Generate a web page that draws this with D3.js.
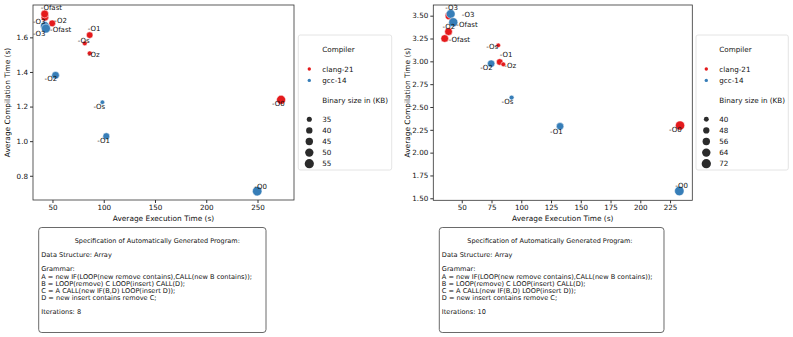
<!DOCTYPE html>
<html>
<head>
<meta charset="utf-8">
<script src="https://cdn.jsdelivr.net/npm/d3@7"></script>
<style>
  body { margin: 0; background: #fff; }
  text { font-family: "DejaVu Sans", sans-serif; fill: #111; }
</style>
</head>
<body>
<svg id="chart" width="793" height="337"></svg>
<script>
// ---------------- data ----------------
var compilers = ["clang-21", "gcc-14"];
var clangFlags = ["-O0", "-O1", "-O2", "-O3", "-Os", "-Oz", "-Ofast"];
var gccFlags = ["-O0", "-O1", "-O2", "-O3", "-Os", "-Ofast"];

// iterations: 8
var it8ClangExec = [273, 86.3, 49.7, 42.6, 81.5, 86.3, 42.4];
var it8ClangComp = [1.239, 1.613, 1.681, 1.716, 1.565, 1.508, 1.735];
var it8ClangSize = [54, 41, 42, 46, 34, 34, 47];
var it8GccExec = [249.7, 102.5, 53, 42.6, 98.7, 43.6];
var it8GccComp = [0.711, 1.029, 1.381, 1.665, 1.225, 1.651];
var it8GccSize = [57, 42, 46, 54, 33, 54];
var it8XTicks = [50, 100, 150, 200, 250];
var it8YTicks = [0.8, 1.0, 1.2, 1.4, 1.6];
var it8SizeTicks = [35, 40, 45, 50, 55];

// iterations: 10
var it10ClangExec = [233.4, 81.9, 38.9, 39.5, 80.7, 84.9, 35.7];
var it10ClangComp = [2.297, 2.993, 3.325, 3.50, 3.175, 2.967, 3.25];
var it10ClangSize = [72, 50, 58, 62, 38, 39, 58];
var it10GccExec = [232.8, 132.6, 74.7, 40.7, 91.9, 42.9];
var it10GccComp = [1.58, 2.289, 2.975, 3.519, 2.603, 3.428];
var it10GccSize = [74, 56, 56, 68, 40, 70];
var it10XTicks = [50, 75, 100, 125, 150, 175, 200, 225];
var it10YTicks = [1.5, 1.75, 2.0, 2.25, 2.5, 2.75, 3.0, 3.25, 3.5];
var it10SizeTicks = [40, 48, 56, 64, 72];

var specLines = [
  "Data Structure: Array",
  "",
  "Grammar:",
  "A = new IF(LOOP(new remove contains),CALL(new B contains));",
  "B = LOOP(remove) C LOOP(insert) CALL(D);",
  "C = A CALL(new IF(B,D) LOOP(insert D));",
  "D = new insert contains remove C;",
  ""
];

// label nudges (px), like adjustText did it
var it8ClangNudge = [[-9,4],[-2,-7],[2,-3],[-12,4],[-7,-3],[-2,1],[-4,-6]];
var it8GccNudge = [[-3,-5],[-9,4],[-11,3],[-12,7],[-9,4],[4,1]];
var it10ClangNudge = [[-11,4],[0,-7],[-6,-5],[-4,-8],[-12,1],[1,1],[4,1]];
var it10GccNudge = [[-4,-5],[-10,5],[-11,4],[11,0.5],[-10,4],[3,2]];

var color = d3.scaleOrdinal().domain(compilers).range(["#e41a1c", "#377eb8"]);

var svg = d3.select("#chart");

function makeRows(flags, exec, comp, size, comp_name, nudge) {
  return flags.map(function(f, i) {
    return {flag: f, exec: exec[i], comp: comp[i], size: size[i], compiler: comp_name, nudge: nudge[i]};
  });
}

function drawPanel(o) {
  var x = d3.scaleLinear().domain(o.xDomain).range([o.left, o.right]);
  var y = d3.scaleLinear().domain(o.yDomain).range([o.bottom, o.top]);
  var allSizes = o.rows.map(function(d) { return d.size; });
  var area = d3.scaleLinear().domain(d3.extent(allSizes)).range([20, 90]);
  var r = function(v) { return Math.sqrt(area(v)) / 2; };

  var g = svg.append("g");

  // axes
  g.append("g")
    .attr("transform", "translate(0," + o.bottom + ")")
    .call(d3.axisBottom(x).tickValues(o.xTicks).tickSize(3).tickPadding(2).tickFormat(d3.format("d")))
    .call(function(a) { a.select(".domain").remove(); a.selectAll("text").style("font-size", "7.2px").attr("fill", "#111"); a.selectAll("line").attr("stroke", "#333"); });
  g.append("g")
    .attr("transform", "translate(" + o.left + ",0)")
    .call(d3.axisLeft(y).tickValues(o.yTicks).tickSize(3).tickPadding(2).tickFormat(d3.format(o.yFormat)))
    .call(function(a) { a.select(".domain").remove(); a.selectAll("text").style("font-size", "7.2px").attr("fill", "#111"); a.selectAll("line").attr("stroke", "#333"); });

  g.append("rect")
    .attr("x", o.left).attr("y", o.top)
    .attr("width", o.right - o.left).attr("height", o.bottom - o.top)
    .attr("fill", "none").attr("stroke", "#333").attr("stroke-width", 0.8);

  g.append("text")
    .attr("x", (o.left + o.right) / 2).attr("y", o.bottom + 21)
    .attr("text-anchor", "middle").style("font-size", "7.4px")
    .text("Average Execution Time (s)");
  g.append("text")
    .attr("transform", "translate(" + (o.left - 26) + "," + ((o.top + o.bottom) / 2) + ") rotate(-90)")
    .attr("text-anchor", "middle").attr("dy", "0.35em").style("font-size", "7.4px")
    .text("Average Compilation Time (s)");

  // points
  g.selectAll(".pt")
    .data(o.rows)
    .enter().append("circle")
    .attr("class", "pt")
    .attr("cx", function(d) { return x(d.exec); })
    .attr("cy", function(d) { return y(d.comp); })
    .attr("r", function(d) { return r(d.size); })
    .attr("fill", function(d) { return color(d.compiler); })
    .attr("stroke", "#fff").attr("stroke-width", 0.5);

  g.selectAll(".lbl")
    .data(o.rows)
    .enter().append("text")
    .attr("class", "lbl")
    .attr("x", function(d) { return x(d.exec) + d.nudge[0]; })
    .attr("y", function(d) { return y(d.comp) + d.nudge[1]; })
    .attr("dy", "0.35em")
    .style("font-size", "7px")
    .text(function(d) { return d.flag; });

  // legend
  var lg = g.append("g").attr("transform", "translate(" + o.legX + "," + o.legY + ")");
  lg.append("rect").attr("width", o.legW).attr("height", 135).attr("rx", 2)
    .attr("fill", "#fff").attr("stroke", "#ddd").attr("stroke-width", 0.8);
  var tx = o.legTextX;
  lg.append("text").attr("x", tx).attr("y", 14).attr("dy", "0.35em").style("font-size", "7.2px").text("Compiler");
  compilers.forEach(function(c, i) {
    lg.append("circle").attr("cx", tx - 13).attr("cy", 34 + i * 11.4).attr("r", 1.7).attr("fill", color(c));
    lg.append("text").attr("x", tx).attr("y", 34 + i * 11.4).attr("dy", "0.35em").style("font-size", "7.2px").text(c);
  });
  lg.append("text").attr("x", tx).attr("y", 65.7).attr("dy", "0.35em").style("font-size", "7.2px").text("Binary size in (KB)");
  o.sizeTicks.forEach(function(s, i) {
    var cy = 84.3 + i * 11.1;
    lg.append("circle").attr("cx", tx - 13).attr("cy", cy).attr("r", r(s)).attr("fill", "#2b2b2b");
    lg.append("text").attr("x", tx).attr("y", cy).attr("dy", "0.35em").style("font-size", "7.2px").text(s);
  });

  // spec box
  var bx = g.append("g").attr("transform", "translate(" + o.boxX + ",227.5)");
  bx.append("rect").attr("width", o.boxW).attr("height", 105).attr("rx", 3)
    .attr("fill", "#fff").attr("stroke", "#444").attr("stroke-width", 0.8);
  bx.append("text").attr("x", o.titleX).attr("y", 13).attr("dy", "0.35em").style("font-size", "6.5px")
    .text("Specification of Automatically Generated Program:");
  specLines.concat(["Iterations: " + o.iterations]).forEach(function(line, i) {
    bx.append("text").attr("x", 2.5).attr("y", 27.4 + i * 7.12).attr("dy", "0.35em")
      .style("font-size", "6.6px").text(line);
  });
}

drawPanel({
  left: 33, right: 294, top: 5, bottom: 200,
  xDomain: [31, 285.6], yDomain: [0.66, 1.787],
  xTicks: it8XTicks, yTicks: it8YTicks, yFormat: ".1f",
  rows: makeRows(clangFlags, it8ClangExec, it8ClangComp, it8ClangSize, "clang-21", it8ClangNudge)
    .concat(makeRows(gccFlags, it8GccExec, it8GccComp, it8GccSize, "gcc-14", it8GccNudge)),
  sizeTicks: it8SizeTicks,
  legX: 298.3, legY: 35, legW: 93.4, legTextX: 24,
  boxX: 38.7, boxW: 227.3, titleX: 36, iterations: 8
});

drawPanel({
  left: 433.3, right: 692.3, top: 5, bottom: 200.3,
  xDomain: [26.1, 243.7], yDomain: [1.478, 3.617],
  xTicks: it10XTicks, yTicks: it10YTicks, yFormat: ".2f",
  rows: makeRows(clangFlags, it10ClangExec, it10ClangComp, it10ClangSize, "clang-21", it10ClangNudge)
    .concat(makeRows(gccFlags, it10GccExec, it10GccComp, it10GccSize, "gcc-14", it10GccNudge)),
  sizeTicks: it10SizeTicks,
  legX: 696, legY: 35, legW: 92.3, legTextX: 23.3,
  boxX: 439.3, boxW: 224.7, titleX: 28, iterations: 10
});
</script>
</body>
</html>
